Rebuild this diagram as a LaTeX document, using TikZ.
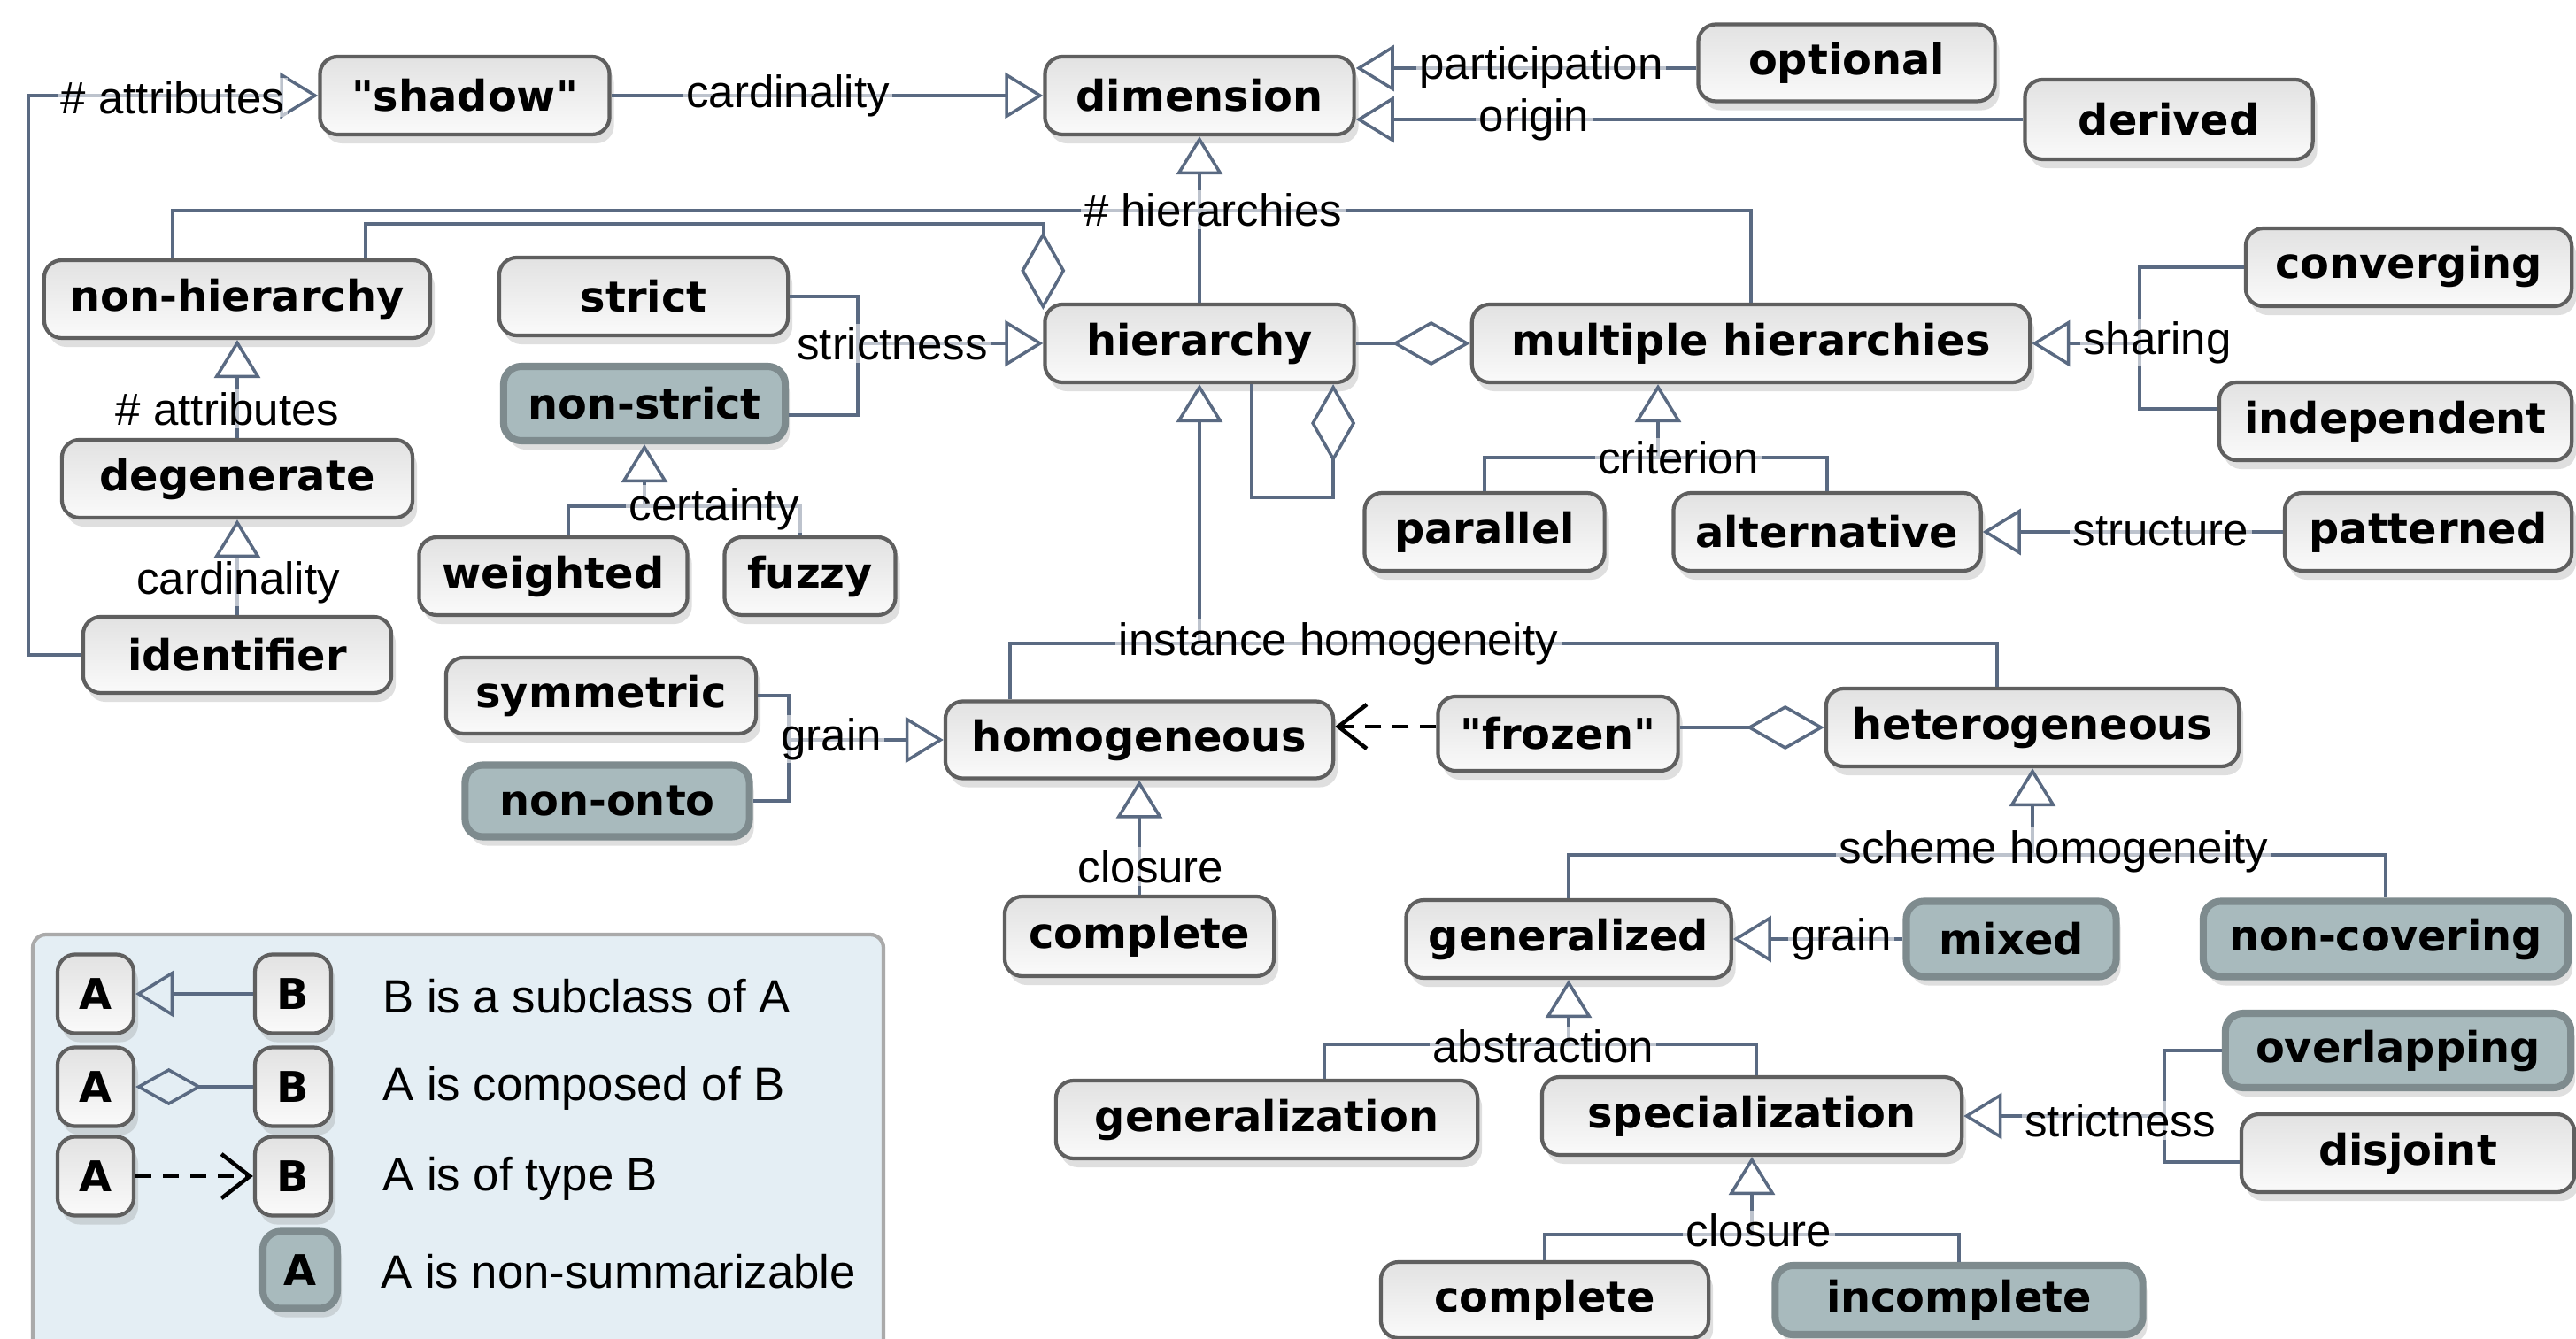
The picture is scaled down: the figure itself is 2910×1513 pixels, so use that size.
\documentclass[tikz,border=0pt]{standalone}
\usepackage{fontspec}
\setmainfont{Liberation Sans}
\newfontfamily\nodefont{DejaVu Sans}
\usetikzlibrary{arrows.meta,shadows}
\definecolor{linecol}{RGB}{90,106,130}
\definecolor{bordercol}{RGB}{95,95,95}
\definecolor{topgray}{RGB}{226,226,226}
\definecolor{botgray}{RGB}{250,250,250}
\definecolor{nsfill}{RGB}{168,186,189}
\definecolor{nsborder}{RGB}{126,139,142}
\definecolor{legfill}{RGB}{228,238,244}
\definecolor{legborder}{RGB}{170,170,170}
\tikzset{
 box/.style={rounded corners=0.2cm, draw=bordercol, line width=1.2pt, top color=topgray, bottom color=botgray, minimum height=0.88cm, inner sep=0pt, font=\nodefont\bfseries\fontsize{13.6}{16}\selectfont, drop shadow={shadow xshift=0.05cm, shadow yshift=-0.1cm, opacity=0.25}},
 nsbox/.style={box, draw=nsborder, line width=2.3pt, top color=nsfill, bottom color=nsfill},
 conn/.style={draw=linecol, line width=1pt},
 gen/.style={conn, -{Triangle[open, length=0.43cm, width=0.52cm]}},
 agg/.style={conn, -{Diamond[open, length=0.88cm, width=0.5cm]}},
 dep/.style={draw=black, line width=1.3pt, dash pattern=on 0.18cm off 0.13cm, -{Straight Barb[length=0.32cm, width=0.5cm]}},
 lbl/.style={font=\fontsize{14.5}{17}\selectfont, fill=white, fill opacity=0.6, text opacity=1, inner sep=1pt},
 legtext/.style={anchor=west, font=\fontsize{15}{18}\selectfont},
}
\begin{document}
\begin{tikzpicture}[x=0.01cm, y=-0.01cm]
\useasboundingbox (0,0) rectangle (2910,1513);
\fill[white] (0,0) rectangle (2910,1513);

% legend background
\draw[draw=legborder, fill=legfill, line width=1.2pt, rounded corners=0.15cm] (37,1056) rectangle (998,1560);

% nodes
\node[box, minimum width=3.27cm] (shadow) at (525,108) {"shadow"};
\node[box, minimum width=3.49cm] (dimension) at (1355,108) {dimension};
\node[box, minimum width=3.35cm, minimum height=0.87cm] (optional) at (2086,71) {optional};
\node[box, minimum width=3.25cm, minimum height=0.9cm] (derived) at (2450,135) {derived};
\node[box, minimum width=4.36cm] (nonhier) at (268,338) {non-hierarchy};
\node[box, minimum width=3.26cm] (strict) at (727,335) {strict};
\node[nsbox, minimum width=3.18cm, minimum height=0.84cm] (nonstrict) at (728,456) {non-strict};
\node[box, minimum width=3.49cm] (hierarchy) at (1355,388) {hierarchy};
\node[box, minimum width=6.3cm] (mh) at (1978,388) {multiple hierarchies};
\node[box, minimum width=3.68cm] (converging) at (2721,302) {converging};
\node[box, minimum width=3.98cm] (independent) at (2706,476) {independent};
\node[box, minimum width=3.96cm] (degenerate) at (268,541) {degenerate};
\node[box, minimum width=3.03cm] (weighted) at (625,651) {weighted};
\node[box, minimum width=1.93cm] (fuzzy) at (915,651) {fuzzy};
\node[box, minimum width=2.71cm] (parallel) at (1677,601) {parallel};
\node[box, minimum width=3.47cm] (alternative) at (2064,601) {alternative};
\node[box, minimum width=3.24cm] (patterned) at (2743,601) {patterned};
\node[box, minimum width=3.48cm, minimum height=0.86cm] (identifier) at (268,740) {identifier};
\node[box, minimum width=3.5cm, minimum height=0.86cm] (symmetric) at (679,786) {symmetric};
\node[nsbox, minimum width=3.21cm, minimum height=0.81cm] (nononto) at (686,905) {non-onto};
\node[box, minimum width=4.38cm, minimum height=0.87cm] (homogeneous) at (1287,836) {homogeneous};
\node[box, minimum width=2.71cm, minimum height=0.84cm] (frozen) at (1760,829) {"frozen"};
\node[box, minimum width=4.66cm] (heterogeneous) at (2296,822) {heterogeneous};
\node[box, minimum width=3.04cm, minimum height=0.9cm] (complete) at (1287,1058) {complete};
\node[box, minimum width=3.67cm] (generalized) at (1772,1061) {generalized};
\node[nsbox, minimum width=2.37cm, minimum height=0.85cm] (mixed) at (2272,1061) {mixed};
\node[nsbox, minimum width=4.12cm, minimum height=0.85cm] (noncovering) at (2695,1061) {non-covering};
\node[nsbox, minimum width=3.9cm, minimum height=0.84cm] (overlapping) at (2709,1187) {overlapping};
\node[box, minimum width=3.76cm] (disjoint) at (2720,1303) {disjoint};
\node[box, minimum width=4.76cm] (generalization) at (1431,1265) {generalization};
\node[box, minimum width=4.74cm] (specialization) at (1979,1261) {specialization};
\node[box, minimum width=3.7cm, minimum height=0.86cm] (complete2) at (1745,1469) {complete};
\node[nsbox, minimum width=4.15cm, minimum height=0.78cm] (incomplete) at (2213,1469) {incomplete};

% connectors
\draw[gen] (identifier.west) -- ++(-60,0) |- (shadow.west);
\draw[gen] (shadow.east) -- (shadow.east -| dimension.west);
\coordinate (pa) at ([yshift=-0.06cm]optional.west);
\draw[gen] (pa) -- (pa -| dimension.east);
\draw[gen] (derived.west) -- (derived.west -| dimension.east);
\draw[conn] ([xshift=-0.73cm]nonhier.north) |- (mh.north |- 0,238) -- (mh.north);
\draw[gen] (hierarchy.north) -- (dimension.south);
\coordinate (hc) at ([yshift=-0.08cm]hierarchy.north west);
\draw[agg] ([xshift=1.45cm]nonhier.north) |- (hc |- 0,253) -- (hc);
\draw[conn] (strict.east) -| (969,469) -- (969,469 -| nonstrict.east);
\draw[gen] (969,388) -- (hierarchy.west);
\draw[gen] (degenerate.north) -- (nonhier.south);
\draw[gen] (identifier.north) -- (degenerate.south);
\draw[conn] ([xshift=0.17cm]weighted.north) |- (904,572) -- (904,572 |- fuzzy.north);
\draw[gen] (nonstrict.south |- 0,572) -- (nonstrict.south);
\draw[conn] (parallel.north) |- (alternative.north |- 0,517) -- (alternative.north);
\draw[gen] (1873,517) -- (mh.south -| 1873,517);
\draw[conn] (converging.west) -| (2417,462) -- (2417,462 -| independent.west);
\draw[gen] (2417,388) -- (mh.east);
\draw[gen] (patterned.west) -- (alternative.east);
\coordinate (ht) at ([xshift=-0.4cm]heterogeneous.north);
\draw[conn] ([xshift=-1.46cm]homogeneous.north) |- (ht |- 0,727) -- (ht);
\draw[gen] (hierarchy.south |- 0,727) -- (hierarchy.south);
\draw[agg] ([xshift=0.59cm]hierarchy.south) -- ++(0,128) -| ([xshift=1.51cm]hierarchy.south);
\draw[agg] (hierarchy.east) -- (mh.west);
\draw[conn] (symmetric.east) -| (891,905) -- (nononto.east);
\draw[gen] (891,836) -- (homogeneous.west);
\coordinate (fz) at ([yshift=0.08cm]frozen.west);
\draw[dep] (fz) -- (fz -| homogeneous.east);
\draw[agg] (frozen.east |- heterogeneous.west) -- (heterogeneous.west);
\draw[gen] (complete.north) -- (homogeneous.south);
\draw[conn] (generalized.north) |- (noncovering.north |- 0,966) -- (noncovering.north);
\draw[gen] (heterogeneous.south |- 0,966) -- (heterogeneous.south);
\draw[gen] (mixed.west) -- (generalized.east);
\coordinate (sp) at ([xshift=0.05cm]specialization.north);
\draw[conn] ([xshift=0.65cm]generalization.north) |- (sp |- 0,1180) -- (sp);
\draw[gen] (generalized.south |- 0,1180) -- (generalized.south);
\coordinate (dj) at ([yshift=-0.1cm]disjoint.west);
\draw[conn] (overlapping.west) -| (dj -| 2445,0) -- (dj);
\draw[gen] (2445,1261) -- (specialization.east);
\draw[conn] (complete2.north) |- (incomplete.north |- 0,1395) -- (incomplete.north);
\draw[gen] (specialization.south |- 0,1395) -- (specialization.south);

% labels
\node[lbl] (L1) at (195,110) {\# attributes};
\node[lbl] (L2) at (890,108) {cardinality};
\node[lbl] (L3) at (1741,76) {participation};
\node[lbl] (L4) at (1733,135) {origin};
\node[lbl] (L5) at (1370,237) {\# hierarchies};
\node[lbl] (L6) at (1008,388) {strictness};
\node[lbl] (L7) at (257,462) {\# attributes};
\node[lbl] (L8) at (269,658) {cardinality};
\node[lbl] (L9) at (807,575) {certainty};
\node[lbl] (L10) at (1896,517) {criterion};
\node[lbl] (L11) at (2437,387) {sharing};
\node[lbl] (L12) at (2441,600) {structure};
\node[lbl] (L13) at (1512,727) {instance homogeneity};
\node[lbl] (L14) at (939,835) {grain};
\node[lbl] (L15) at (1300,979) {closure};
\node[lbl] (L16) at (2320,962) {scheme homogeneity};
\node[lbl] (L17) at (2080,1061) {grain};
\node[lbl] (L18) at (1743,1182) {abstraction};
\node[lbl] (L19) at (2395,1266) {strictness};
\node[lbl] (L20) at (1987,1390) {closure};

% legend
\node[box, minimum width=0.86cm, minimum height=0.89cm] (la1) at (108,1123) {A};
\node[box, minimum width=0.86cm, minimum height=0.89cm] (lb1) at (331,1123) {B};
\node[box, minimum width=0.86cm, minimum height=0.89cm] (la2) at (108,1228) {A};
\node[box, minimum width=0.86cm, minimum height=0.89cm] (lb2) at (331,1228) {B};
\node[box, minimum width=0.86cm, minimum height=0.89cm] (la3) at (108,1329) {A};
\node[box, minimum width=0.86cm, minimum height=0.89cm] (lb3) at (331,1329) {B};
\node[nsbox, minimum width=0.84cm, minimum height=0.87cm] (la4) at (339,1435) {A};
\draw[gen] (lb1.west) -- (la1.east);
\draw[conn, -{Diamond[open, length=0.75cm, width=0.42cm]}] (lb2.west) -- (la2.east);
\draw[dep] (la3.east) -- (lb3.west);
\node[legtext] (t1) at (420,1126) {B is a subclass of A};
\node[legtext] (t2) at (420,1230) {A is composed of B};
\node[legtext] (t3) at (420,1332) {A is of type B};
\node[legtext] (t4) at (418,1437) {A is non-summarizable};
\end{tikzpicture}
\end{document}
